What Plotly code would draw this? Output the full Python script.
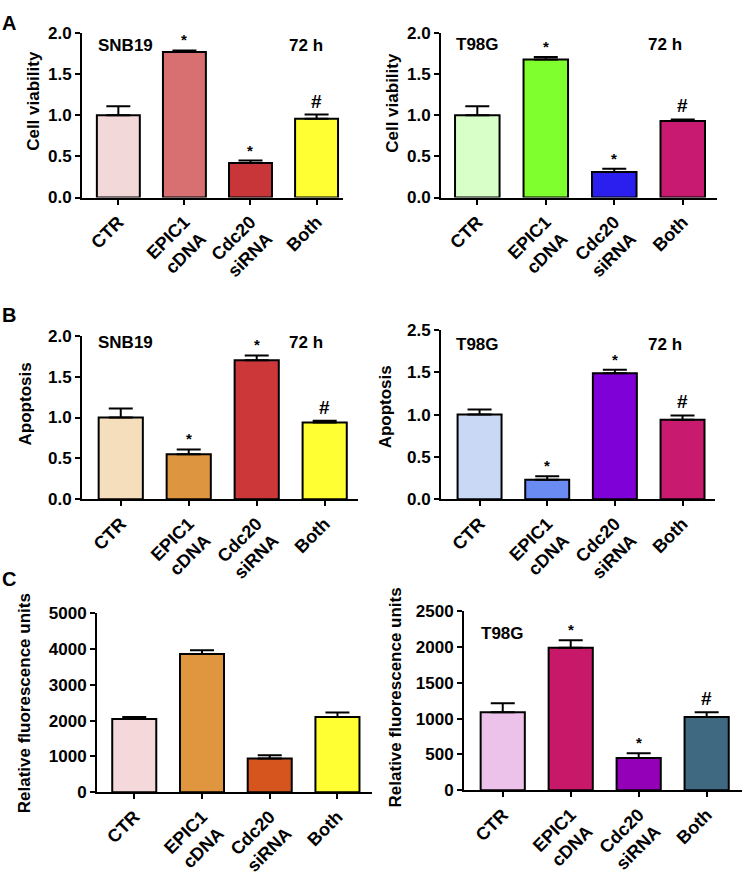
import plotly.graph_objects as go

W, H = 744, 876

categories = ["CTR", "EPIC1<br>cDNA", "Cdc20<br>siRNA", "Both"]

A_snb19_mean = [1.00, 1.77, 0.42, 0.96]
A_snb19_err = [0.11, 0.02, 0.03, 0.05]
A_t98g_mean = [1.00, 1.68, 0.31, 0.93]
A_t98g_err = [0.11, 0.03, 0.04, 0.02]
B_snb19_mean = [1.00, 0.55, 1.70, 0.94]
B_snb19_err = [0.11, 0.06, 0.06, 0.02]
B_t98g_mean = [1.00, 0.23, 1.49, 0.94]
B_t98g_err = [0.06, 0.04, 0.04, 0.05]
C_snb19_mean = [2045, 3860, 945, 2100]
C_snb19_err = [55, 110, 90, 125]
C_t98g_mean = [1090, 1990, 450, 1025]
C_t98g_err = [125, 105, 68, 65]

sig_marks = ["", "*", "*", "#"]
no_marks = ["", "", "", ""]

A_snb19_colors = ["#F3D8DA", "#D87072", "#C8363A", "#FFFF33"]
A_t98g_colors = ["#D9FFC9", "#80FF2E", "#2A1FEF", "#C71A70"]
B_snb19_colors = ["#F5DEBB", "#DE9540", "#CC383A", "#FFFF33"]
B_t98g_colors = ["#C8D8F5", "#6A8CF2", "#8000D8", "#C81A6E"]
C_snb19_colors = ["#F5D8DA", "#DF963F", "#D6541E", "#FFFF33"]
C_t98g_colors = ["#ECC2EA", "#C8186A", "#9400B8", "#3F6980"]

y_titles = ["Cell viability", "Cell viability", "Apoptosis", "Apoptosis",
            "Relative fluorescence units", "Relative fluorescence units"]

FONT = "Arial, Liberation Sans, sans-serif"

panels = [
    dict(mean=A_snb19_mean, err=A_snb19_err, colors=A_snb19_colors, marks=sig_marks,
         box=(82, 343, 25, 195), xr=[-0.55, 3.40], ymax=2.0,
         tv=[0, 0.5, 1.0, 1.5, 2.0], tt=["0.0", "0.5", "1.0", "1.5", "2.0"],
         title_xy=(34, 95)),
    dict(mean=A_t98g_mean, err=A_t98g_err, colors=A_t98g_colors, marks=sig_marks,
         box=(441, 717, 25, 195), xr=[-0.53, 3.50], ymax=2.0,
         tv=[0, 0.5, 1.0, 1.5, 2.0], tt=["0.0", "0.5", "1.0", "1.5", "2.0"],
         title_xy=(393, 97)),
    dict(mean=B_snb19_mean, err=B_snb19_err, colors=B_snb19_colors, marks=sig_marks,
         box=(82, 358, 338, 507), xr=[-0.57, 3.49], ymax=2.0,
         tv=[0, 0.5, 1.0, 1.5, 2.0], tt=["0.0", "0.5", "1.0", "1.5", "2.0"],
         title_xy=(25, 409)),
    dict(mean=B_t98g_mean, err=B_t98g_err, colors=B_t98g_colors, marks=sig_marks,
         box=(441, 715, 332, 507), xr=[-0.57, 3.48], ymax=2.0,
         tv=[0, 0.5, 1.0, 1.5, 2.0], tt=["0.0", "0.5", "1.0", "1.5", "2.5"],
         title_xy=(385, 412)),
    dict(mean=C_snb19_mean, err=C_snb19_err, colors=C_snb19_colors, marks=no_marks,
         box=(97, 372, 625, 810), xr=[-0.55, 3.51], ymax=5000,
         tv=[0, 1000, 2000, 3000, 4000, 5000], tt=["0", "1000", "2000", "3000", "4000", "5000"],
         title_xy=(24, 718)),
    dict(mean=C_t98g_mean, err=C_t98g_err, colors=C_t98g_colors, marks=sig_marks,
         box=(464, 742, 623, 808), xr=[-0.57, 3.52], ymax=2500,
         tv=[0, 500, 1000, 1500, 2000, 2500], tt=["0", "500", "1000", "1500", "2000", "2500"],
         title_xy=(395, 712)),
]

fig = go.Figure()
annotations = []
layout = {}

for i, p in enumerate(panels):
    n = "" if i == 0 else str(i + 1)
    xa, ya = "x" + n, "y" + n
    left, right, top, bottom = p["box"]
    fig.add_trace(go.Bar(
        x=categories, y=p["mean"], xaxis=xa, yaxis=ya,
        width=0.65,
        marker=dict(color=p["colors"], line=dict(color="black", width=2)),
        error_y=dict(type="data", symmetric=False, array=p["err"],
                     arrayminus=[0] * 4, color="black", thickness=2, width=12),
        showlegend=False, hoverinfo="skip",
    ))
    layout["xaxis" + n] = dict(
        domain=[left / W, right / W], anchor=ya, range=p["xr"],
        type="category", categoryorder="array", categoryarray=categories,
        showline=True, linecolor="black", linewidth=2,
        ticks="outside", ticklen=5, tickwidth=2, tickcolor="black",
        tickangle=-45, showgrid=False, zeroline=False,
        tickfont=dict(family=FONT, size=18, color="black", weight="bold"),
    )
    layout["yaxis" + n] = dict(
        domain=[1 - bottom / H, 1 - top / H], anchor=xa, range=[0, p["ymax"]],
        tickvals=p["tv"], ticktext=p["tt"],
        showline=True, linecolor="black", linewidth=2,
        ticks="outside", ticklen=5, tickwidth=2, tickcolor="black",
        showgrid=False, zeroline=False,
        tickfont=dict(family=FONT, size=17, color="black", weight="bold"),
    )
    tx, ty = p["title_xy"]
    annotations.append(dict(
        text=y_titles[i], x=tx / W, y=1 - ty / H, xref="paper", yref="paper",
        textangle=-90, showarrow=False, xanchor="center", yanchor="middle",
        font=dict(family=FONT, size=17, color="black", weight="bold"),
    ))
    for c, m, e, mk in zip(categories, p["mean"], p["err"], p["marks"]):
        if not mk:
            continue
        annotations.append(dict(
            text=mk, x=c, y=m + e, xref=xa, yref=ya, showarrow=False,
            xanchor="center", yanchor="bottom",
            yshift=0 if mk == "*" else 1,
            font=dict(family=FONT, size=15 if mk == "*" else 19,
                      color="black", weight="bold"),
        ))

labels = [
    ("A", 9, 14, 20), ("B", 9, 316, 20), ("C", 9, 590, 20),
    ("SNB19", 126, 38, 17), ("72 h", 306, 38, 17),
    ("T98G", 477, 37, 17), ("72 h", 665, 37, 17),
    ("SNB19", 126, 345, 17), ("72 h", 306, 345, 17),
    ("T98G", 477, 347, 17), ("72 h", 665, 347, 17),
    ("T98G", 503, 646, 17),
]
for t, x, y, s in labels:
    annotations.append(dict(
        text=t, x=x / W, y=1 - y / H, xref="paper", yref="paper",
        showarrow=False, xanchor="center", yanchor="middle",
        font=dict(family=FONT, size=s, color="black", weight="bold"),
    ))

fig.update_layout(
    width=W, height=H, margin=dict(l=0, r=0, t=0, b=0),
    paper_bgcolor="white", plot_bgcolor="white",
    annotations=annotations, **layout,
)

fig.write_html("out.html", config={"displayModeBar": False},
               post_script="document.body.style.margin='0';")
